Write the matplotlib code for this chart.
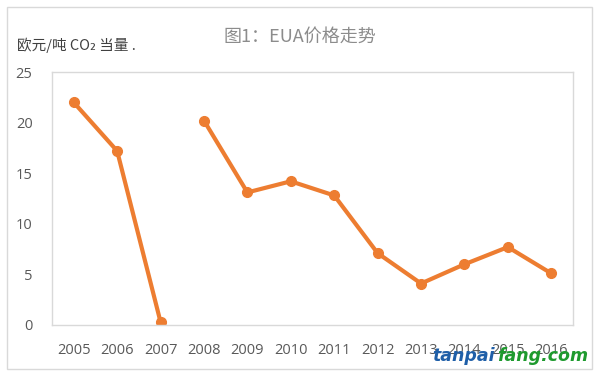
import matplotlib
matplotlib.use("Agg")
import matplotlib.pyplot as plt
import numpy as np
from matplotlib.patches import Rectangle

years = ["2005", "2006", "2007", "2008", "2009", "2010", "2011", "2012", "2013", "2014", "2015", "2016"]
prices = [22.0, 17.2, 0.3, np.nan, 13.1, 14.2, 12.8, 7.1, 4.1, 6.0, 7.7, 5.1]
prices_2008 = 20.2  # 2008 value starts a new segment
yticks = [0, 5, 10, 15, 20, 25]

vals = list(prices)
vals[3] = prices_2008

plt.rcParams['font.family'] = ['Open Sans', 'Noto Sans CJK SC', 'DejaVu Sans']

fig = plt.figure(figsize=(6, 3.75), dpi=100)
W, H = 600, 375
ax = fig.add_axes([52 / W, 1 - 325 / H, (573 - 52) / W, (325 - 72) / H])

x = np.arange(len(years))
color = '#ED7D31'
# segment 1: 2005-2007, segment 2: 2008-2016
ax.plot(x[:3], vals[:3], color=color, lw=3, marker='o', ms=7)
ax.plot(x[3:], vals[3:], color=color, lw=3, marker='o', ms=7)

ax.set_xlim(-0.5, len(years) - 0.5)
ax.set_ylim(0, 25)
ax.set_yticks(yticks)
ax.set_xticks(x)
ax.set_xticklabels(years)
ax.tick_params(length=0, labelsize=10.5, colors='#595959')
ax.tick_params(axis='x', pad=13)
ax.tick_params(axis='y', pad=14)
for s in ax.spines.values():
    s.set_color('#D9D9D9')
    s.set_linewidth(1)

# outer chart border
fig.patches.append(Rectangle((7 / W, 1 - 369 / H), (592 - 7) / W, (369 - 7) / H,
                             transform=fig.transFigure, fill=False, ec='#D9D9D9', lw=1))

fig.text(300 / W, 1 - 37 / H, "图1：EUA价格走势", ha='center', va='center',
         fontsize=13, color='#8C8C8C', family=['Noto Sans CJK SC', 'DejaVu Sans'])
fig.text(17 / W, 1 - 45 / H, "欧元/吨 CO₂ 当量 .", ha='left', va='center',
         fontsize=10.5, color='#404040', family=['Noto Sans CJK SC', 'DejaVu Sans'])

# watermark
fig.text(432 / W, 1 - 356 / H, "tanpai", ha='left', va='center', fontsize=12.5,
         fontweight='bold', style='italic', color='#1F5FA8', family='DejaVu Sans')
fig.text(497 / W, 1 - 356 / H, "fang.com", ha='left', va='center', fontsize=12.5,
         fontweight='bold', style='italic', color='#1E9A2E', family='DejaVu Sans')

fig.savefig("out.png", dpi=100)
